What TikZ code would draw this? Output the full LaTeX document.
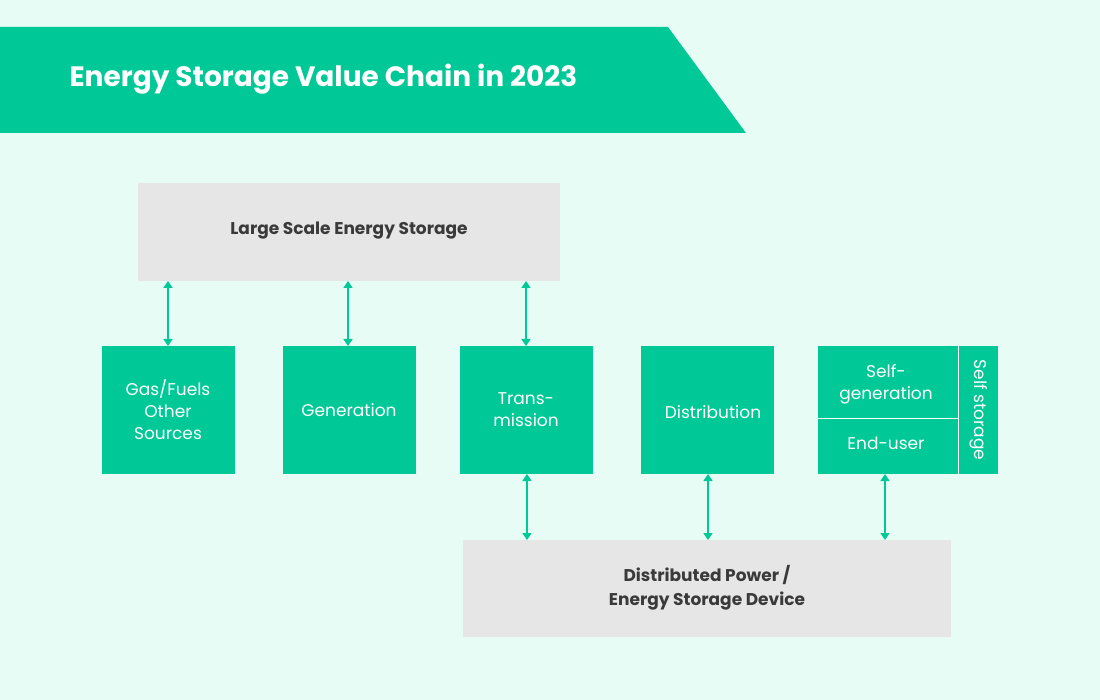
\documentclass[tikz,border=0pt]{standalone}
\usepackage{fontspec}
\setmainfont{Poppins}
\usetikzlibrary{arrows.meta}
\definecolor{bg}{HTML}{E6FCF5}
\definecolor{grn}{HTML}{00C896}
\definecolor{gry}{HTML}{E6E6E6}
\definecolor{txt}{HTML}{3A3A3A}
\tikzset{
 gbox/.style={fill=gry,draw=none},
 kbox/.style={fill=grn,draw=none},
 lbl/.style={font=\fontsize{17}{22}\selectfont, text=white, align=center},
 glbl/.style={font=\bfseries\fontsize{17}{24}\selectfont, text=txt, align=center},
 conn/.style={grn, line width=1.6pt, {Triangle[length=7pt,width=9pt]}-{Triangle[length=7pt,width=9pt]}}
}
\begin{document}
\begin{tikzpicture}[x=1pt,y=-1pt]
\fill[bg] (0,0) rectangle (1100,700);
\useasboundingbox (0,0) rectangle (1100,700);
\fill[grn] (0,27) -- (668,27) -- (746,133) -- (0,133) -- cycle;
\node[anchor=west, text=white, font=\bfseries\fontsize{28}{32}\selectfont] (title) at (66,79) {Energy Storage Value Chain in 2023};
\fill[gry] (138,183) rectangle (560,281);
\node[glbl] (large) at (349,231) {Large Scale Energy Storage};
\fill[gry] (463,540) rectangle (951,637);
\node[glbl] (dist) at (707,588) {Distributed Power /\\Energy Storage Device};
\fill[grn] (102,346) rectangle (235,474);
\fill[grn] (283,346) rectangle (416,474);
\fill[grn] (460,346) rectangle (593,474);
\fill[grn] (641,346) rectangle (774,474);
\fill[grn] (818,346) rectangle (998,474);
\draw[white, line width=1pt] (958,346) -- (958,474);
\draw[white, line width=1pt] (818,418) -- (958,418);
\node[lbl] (gas) at (168,410) {Gas/Fuels\\Other\\Sources};
\node[lbl] (gen) at (349,410) {Generation};
\node[lbl] (tra) at (526,410) {Trans-\\mission};
\node[lbl] (dis) at (713,412) {Distribution};
\node[lbl] (self) at (886,384) {Self-\\generation};
\node[lbl] (end) at (886,443) {End-user};
\node[lbl, rotate=-90] (ss) at (979,410) {Self storage};
\coordinate (a1) at (168,281); \coordinate (b1) at (168,346);
\coordinate (a2) at (348,281); \coordinate (b2) at (348,346);
\coordinate (a3) at (526,281); \coordinate (b3) at (526,346);
\coordinate (c1) at (527,474); \coordinate (d1) at (527,540);
\coordinate (c2) at (708,474); \coordinate (d2) at (708,540);
\coordinate (c3) at (885,474); \coordinate (d3) at (885,540);
\foreach \p/\q in {a1/b1,a2/b2,a3/b3,c1/d1,c2/d2,c3/d3} \draw[conn] (\p) -- (\q);
\end{tikzpicture}
\end{document}
